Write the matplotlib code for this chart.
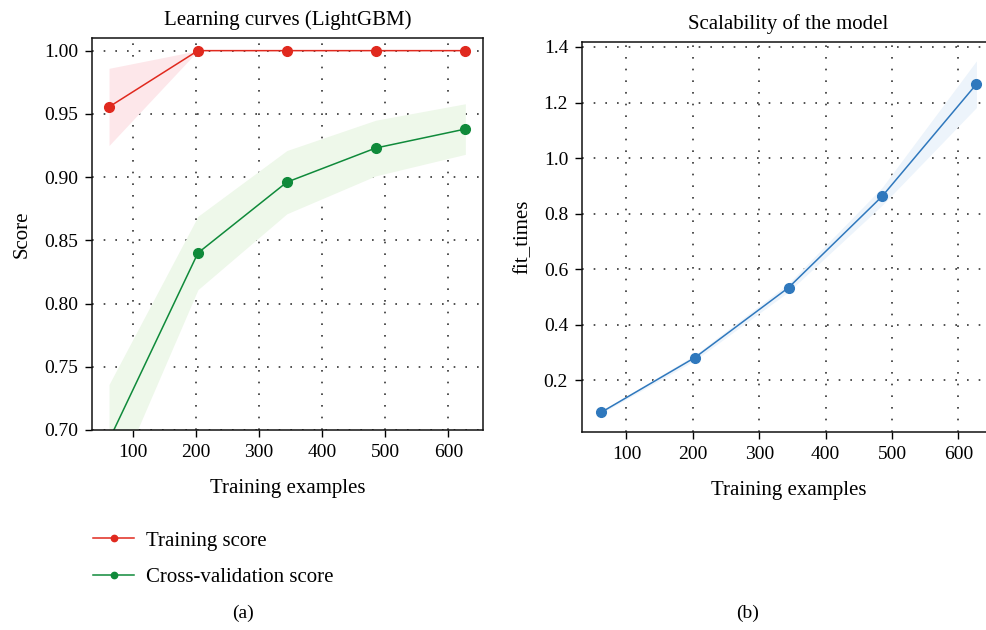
import matplotlib
matplotlib.use("Agg")
import matplotlib.pyplot as plt
import numpy as np

plt.rcParams["font.family"] = ["Liberation Serif", "DejaVu Serif"]
plt.rcParams["font.size"] = 14

# ── data ──
train_sizes = [62, 203, 344, 485, 627]
train_mean = [0.9555, 1.0, 1.0, 1.0, 1.0]
train_std = [0.0305, 0.0, 0.0, 0.0, 0.0]
cv_mean = [0.692, 0.840, 0.896, 0.923, 0.938]
cv_std = [0.044, 0.029, 0.025, 0.022, 0.020]
fit_mean = [0.084, 0.281, 0.533, 0.862, 1.266]
fit_std = [0.004, 0.010, 0.015, 0.032, 0.084]

x_ticks = [100, 200, 300, 400, 500, 600]
score_ticks = [0.70, 0.75, 0.80, 0.85, 0.90, 0.95, 1.00]
fit_ticks = [0.2, 0.4, 0.6, 0.8, 1.0, 1.2, 1.4]

RED = "#e0291e"
GREEN = "#0f8a3a"
BLUE = "#2f78bd"

W, H = 987, 630
fig = plt.figure(figsize=(W / 100, H / 100), dpi=100)


def px_axes(x0, y0, x1, y1):
    return fig.add_axes([x0 / W, 1 - y1 / H, (x1 - x0) / W, (y1 - y0) / H])


def style(ax):
    ax.grid(True, color="#333333", linestyle=(0, (1, 6)), linewidth=1.2)
    ax.set_axisbelow(True)
    for sp in ax.spines.values():
        sp.set_color("#111111")
        sp.set_linewidth(1.1)
    ax.tick_params(direction="out", length=5, width=1, top=False, right=False, pad=5)


ax1 = px_axes(92, 38, 483, 430)
ax2 = px_axes(582, 42, 995, 432)

tm, ts = np.array(train_mean), np.array(train_std)
cm, cs = np.array(cv_mean), np.array(cv_std)
fm, fs = np.array(fit_mean), np.array(fit_std)

# ── (a) learning curves ──
ax1.fill_between(train_sizes, tm - ts, tm + ts, color="#fde7ea", lw=0)
ax1.fill_between(train_sizes, cm - cs, cm + cs, color="#eef8ea", lw=0)
ax1.plot(train_sizes, tm, "o-", color=RED, lw=1.1, ms=7, label="Training score")
ax1.plot(train_sizes, cm, "o-", color=GREEN, lw=1.1, ms=7, label="Cross-validation score")
ax1.set_xlim(35, 655)
ax1.set_ylim(0.70, 1.01)
ax1.set_xticks(x_ticks)
ax1.set_yticks(score_ticks)
ax1.set_yticklabels([f"{v:.2f}" for v in score_ticks])
ax1.set_title("Learning curves (LightGBM)", pad=9, fontsize=15)
ax1.set_xlabel("Training examples", labelpad=13, fontsize=15)
ax1.set_ylabel("Score", labelpad=9, fontsize=15)
style(ax1)
ax1.legend(loc="upper left", bbox_to_anchor=(-0.046, -0.21), frameon=False, fontsize=15,
           markerscale=0.65, handlelength=2.0, handletextpad=0.55, labelspacing=0.8)

# ── (b) scalability ──
ax2.fill_between(train_sizes, fm - fs, fm + fs, color="#edf4fb", lw=0)
ax2.plot(train_sizes, fm, "o-", color=BLUE, lw=1.1, ms=7)
ax2.set_xlim(33, 655)
ax2.set_ylim(0.013, 1.418)
ax2.set_xticks(x_ticks)
ax2.set_yticks(fit_ticks)
ax2.set_yticklabels([f"{v:.1f}" for v in fit_ticks])
ax2.set_title("Scalability of the model", pad=9, fontsize=15)
ax2.set_xlabel("Training examples", labelpad=13, fontsize=15)
ax2.set_ylabel("fit_times", labelpad=8, fontsize=15)
style(ax2)

fig.text(243 / W, 1 - 613 / H, "(a)", ha="center", va="center", fontsize=14)
fig.text(748 / W, 1 - 613 / H, "(b)", ha="center", va="center", fontsize=14)

fig.savefig("out.png", dpi=100)
